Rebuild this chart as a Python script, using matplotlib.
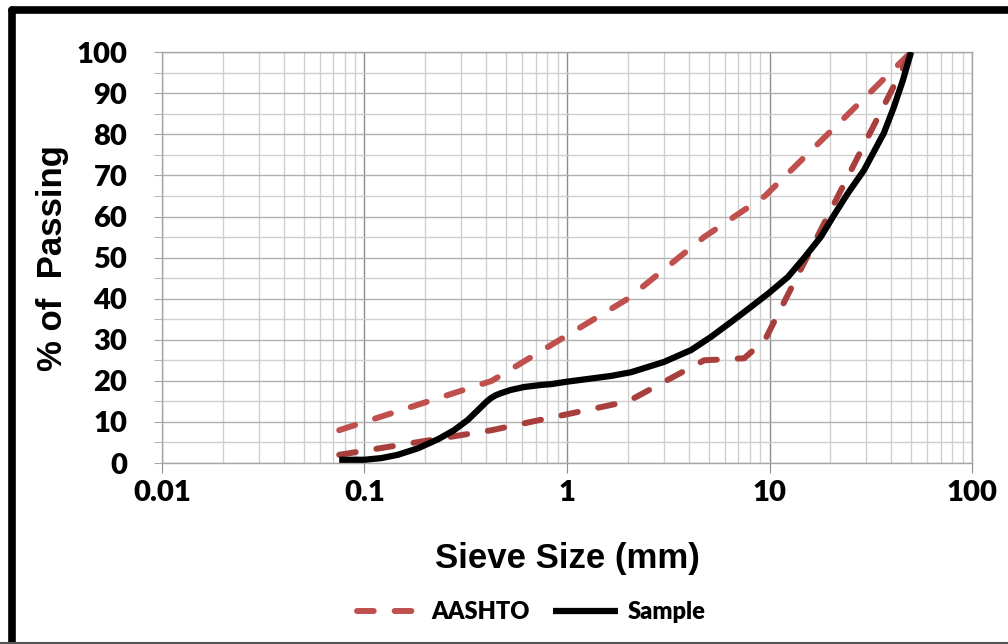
import matplotlib.pyplot as plt
from matplotlib.ticker import FixedLocator, NullFormatter, MultipleLocator
from matplotlib.lines import Line2D

# AASHTO limits (sieve size in mm, % passing)
aashto_up_x = [0.075, 0.425, 2.0, 4.75, 9.5, 50]
aashto_up_y = [8, 20, 40, 55, 65, 100]
aashto_lo_x = [0.075, 0.425, 2.0, 4.75, 7.5, 9.5, 50]
aashto_lo_y = [2, 8, 15, 25, 25.5, 30, 100]

# sample gradation
sample_x = [0.075, 0.1, 0.121, 0.146, 0.184, 0.231, 0.277, 0.324, 0.376, 0.40, 0.421,
            0.445, 0.472, 0.529, 0.613, 0.744, 0.834, 1.0, 1.65, 2.07, 3.01, 4.10, 5.14,
            6.45, 8.10, 9.94, 12.34, 14.8, 17.9, 20.8, 24.4, 29.3, 36.7, 41.1,
            45.6, 50]
sample_y = [0.8, 0.8, 1.2, 2.0, 3.6, 5.8, 8.0, 10.5, 13.6, 14.9, 15.8,
            16.5, 17.0, 17.8, 18.5, 19.0, 19.2, 19.8, 21.2, 22.1, 24.6, 27.5, 30.7,
            34.3, 38.0, 41.4, 45.3, 49.9, 55.0, 60.3, 65.7, 71.3, 80.3, 86.6,
            93.2, 100]

xticks = [0.01, 0.1, 1, 10, 100]
xtick_labels = ['0.01', '0.1', '1', '10', '100']

fig = plt.figure(figsize=(10.08, 6.44), dpi=100)
ax = fig.add_axes([0.1607, 0.281, 0.8036, 0.638])

dash = (0, (2.8, 3.5))
ax.plot(aashto_up_x, aashto_up_y, color='#C0504D', lw=4.3, linestyle=dash,
        dash_capstyle='round', label='AASHTO', zorder=3)
ax.plot(aashto_lo_x, aashto_lo_y, color='#A83F3C', lw=4.3, linestyle=dash,
        dash_capstyle='round', label='_nolegend_', zorder=3)
ax.plot(sample_x, sample_y, color='black', lw=4.5, solid_capstyle='butt',
        solid_joinstyle='round', label='Sample', zorder=4)

ax.set_xscale('log')
ax.set_xlim(0.01, 100)
ax.set_ylim(0, 100)
ax.xaxis.set_major_locator(FixedLocator(xticks))
ax.set_xticklabels(xtick_labels)
ax.xaxis.set_minor_locator(FixedLocator([m * d for d in [0.01, 0.1, 1, 10] for m in range(2, 10)]))
ax.xaxis.set_minor_formatter(NullFormatter())
ax.yaxis.set_major_locator(MultipleLocator(10))
ax.yaxis.set_minor_locator(MultipleLocator(5))

ax.grid(which='major', axis='x', color='#8C8C8C', lw=1.0)
ax.grid(which='minor', axis='x', color='#CFCFCF', lw=1.0)
ax.grid(which='major', axis='y', color='#B0B0B0', lw=1.0)
ax.grid(which='minor', axis='y', color='#CFCFCF', lw=1.0)
ax.set_axisbelow(True)

for s in ax.spines.values():
    s.set_color('#A6A6A6')
    s.set_linewidth(1.0)

ax.tick_params(axis='y', which='both', length=6, color='#A6A6A6', pad=19)
ax.tick_params(axis='x', which='major', length=7, color='#8C8C8C', pad=5)
ax.tick_params(axis='x', which='minor', length=0)
for lab in ax.get_xticklabels() + ax.get_yticklabels():
    lab.set_fontfamily('Lato')
    lab.set_fontweight('heavy')
    lab.set_fontsize(21)

ax.set_xlabel('Sieve Size (mm)', fontfamily='Liberation Sans', fontweight='bold',
              fontsize=25, labelpad=26)
ax.set_ylabel('% of  Passing', fontfamily='Liberation Sans', fontweight='bold',
              fontsize=25, labelpad=5)

leg = fig.legend(loc='center', bbox_to_anchor=(0.527, 0.05), ncol=2, frameon=False,
                 prop={'family': 'Lato', 'weight': 'heavy', 'size': 17},
                 handlelength=2.75, columnspacing=1.0, handletextpad=0.4)

# outer frame (shadowed border)
fig.add_artist(Line2D([0.0115, 0.0115], [0.0, 0.985], transform=fig.transFigure,
                      color='black', lw=5.5, solid_capstyle='round'))
fig.add_artist(Line2D([0.0115, 1.0], [0.985, 0.985], transform=fig.transFigure,
                      color='black', lw=5.5, solid_capstyle='round'))
fig.add_artist(Line2D([0.0, 1.0], [0.0015, 0.0015], transform=fig.transFigure,
                      color='#555555', lw=1.5))

fig.savefig('out.png', dpi=100)
